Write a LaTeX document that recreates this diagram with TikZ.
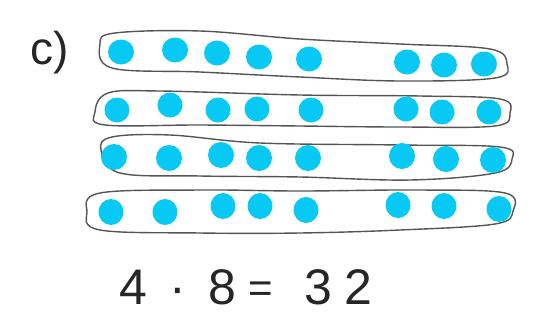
\documentclass[tikz,border=0pt]{standalone}
\usepackage{fontspec}
\setmainfont{Liberation Sans}
\definecolor{dotblue}{HTML}{08C8F4}
\definecolor{loopgray}{HTML}{555555}
\tikzset{
  blob/.style={fill=dotblue, draw=none},
  loopline/.style={draw=loopgray, line width=1.4pt, line join=round},
  hand/.style={inner sep=0pt, text=black!85, font=\fontsize{50}{50}\selectfont}
}
\begin{document}
\begin{tikzpicture}[x=1pt,y=-1pt]
\useasboundingbox (0,0) rectangle (533,327);
% label
\node[hand, font=\fontsize{46}{46}\selectfont] (lbl) at (50,53) {c)};
% loops
\draw[loopline] plot[smooth cycle, tension=0.6] coordinates {(100,44) (115,33) (200,31) (300,39) (400,44) (490,49) (507,64) (495,78) (400,81) (300,77) (200,72) (112,68)};
\draw[loopline] plot[smooth cycle, tension=0.6] coordinates {(95,112) (108,93) (160,91) (300,95) (420,96) (500,99) (510,113) (495,126) (400,127) (300,126) (200,125) (105,125)};
\draw[loopline] plot[smooth cycle, tension=0.6] coordinates {(101,150) (112,137) (170,135) (260,143) (400,145) (500,147) (512,159) (495,173) (410,180) (300,177) (200,176) (120,173)};
\draw[loopline] plot[smooth cycle, tension=0.6] coordinates {(87,212) (100,193) (200,190) (300,191) (420,190) (505,193) (513,211) (495,224) (400,230) (300,233) (200,233) (100,230)};
% dots row 1
\foreach \x/\y in {121/52,175/50,217/53,259/57,309/59,407/62,444/65,484/64}
  \fill[blob] (\x,\y) ellipse (13 and 12.5);
% row 2
\foreach \x/\y in {117/110,170/105,218/110,257/109,311/110,406/109,442/112,489/112}
  \fill[blob] (\x,\y) ellipse (12.5 and 12.5);
% row 3
\foreach \x/\y in {114/157,169/158,221/155,259/158,308/158,402/156,446/159,493/160}
  \fill[blob] (\x,\y) ellipse (13 and 13);
% row 4
\foreach \x/\y in {111/212,165/212,223/206,260/206,306/210,398/205,444/206,499/209}
  \fill[blob] (\x,\y) ellipse (12.5 and 13);
% equation
\node[hand] (n4) at (133,287) {4};
\node[hand] (dt) at (178,296) {·};
\node[hand] (n8) at (222,287) {8};
\node[hand, font=\fontsize{42}{42}\selectfont] (eq) at (261,292) {=};
\node[hand] (n3) at (318,287) {3};
\node[hand] (n2) at (358,287) {2};
\end{tikzpicture}
\end{document}
